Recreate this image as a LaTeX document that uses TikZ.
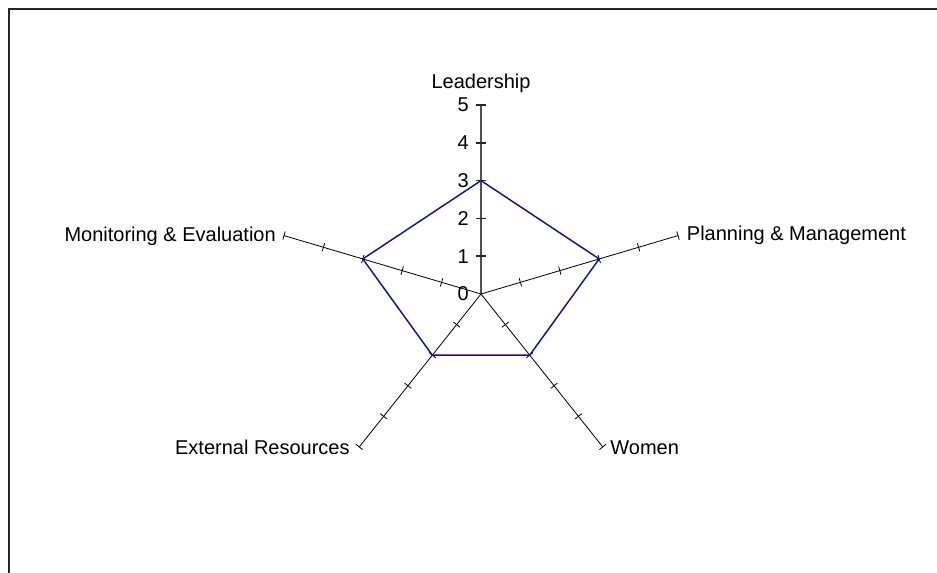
\documentclass[tikz,border=0pt]{standalone}
\usepackage{fontspec}
\setmainfont{Liberation Sans}
\usetikzlibrary{calc}
\definecolor{seriesblue}{RGB}{20,20,140}
\definecolor{axisgray}{RGB}{80,80,80}
\tikzset{
  frameline/.style={line width=1.6pt, draw=black!85},
  spoke/.style={line width=0.6pt, draw=black},
  mainspoke/.style={line width=0.9pt, draw=axisgray},
  tickmark/.style={line width=0.6pt, draw=black},
  maintick/.style={line width=1.1pt, draw=black!85},
  series/.style={line width=1.1pt, draw=seriesblue, line join=miter},
  catlabel/.style={inner sep=0pt, font=\fontsize{15}{18}\selectfont},
  numlabel/.style={inner sep=0pt, anchor=east, font=\fontsize{15}{18}\selectfont},
}
\begin{document}
\begin{tikzpicture}[x=0.75pt,y=-0.75pt]
\useasboundingbox (0,0) rectangle (937,573);
% chart frame (left and top edges)
\draw[frameline] (9,573) -- (9,9) -- (937,9);

% radar chart: one unit along each spoke
\begin{scope}[shift={(360.75pt,-220.5pt)}, x={(31.07pt,0pt)}, y={(0pt,28.35pt)}]
  \coordinate (O) at (0,0);
  \coordinate (L5) at (90:5);
  \coordinate (P5) at (18:5);
  \coordinate (W5) at (-54:5);
  \coordinate (E5) at (234:5);
  \coordinate (M5) at (162:5);

  % spokes
  \draw[mainspoke] (O) -- (L5);
  \draw[spoke] (O) -- (P5);
  \draw[spoke] (O) -- (W5);
  \draw[spoke] (O) -- (E5);
  \draw[spoke] (O) -- (M5);

  % tick marks
  \foreach \k in {1,...,5} {
    \draw[maintick] (90:\k) ++(180:3.9pt) -- ++(0:7.8pt);
    \draw[tickmark] (18:\k) ++(106.54:3.2pt) -- ++(-73.46:6.4pt);
    \draw[tickmark] (-54:\k) ++(38.53:3.2pt) -- ++(218.53:6.4pt);
    \draw[tickmark] (234:\k) ++(141.47:3.2pt) -- ++(-38.53:6.4pt);
    \draw[tickmark] (162:\k) ++(73.46:3.2pt) -- ++(253.46:6.4pt);
  }

  % scale numbers
  \foreach \k in {0,...,5} {
    \node[numlabel, xshift=-9pt] (n\k) at (90:\k) {\k};
  }

  % data series
  \coordinate (dL) at (90:3);
  \coordinate (dP) at (18:3);
  \coordinate (dW) at (-54:2);
  \coordinate (dE) at (234:2);
  \coordinate (dM) at (162:3);
  \draw[series] (dL) -- (dP) -- (dW) -- (dE) -- (dM) -- cycle;

  % category labels
  \node[catlabel, anchor=base, yshift=12pt] (labL) at (L5) {Leadership};
  \node[catlabel, anchor=base west, xshift=6.5pt, yshift=-3.5pt] (labP) at (P5) {Planning \& Management};
  \node[catlabel, anchor=base west, xshift=5.5pt, yshift=-6pt] (labW) at (W5) {Women};
  \node[catlabel, anchor=base east, xshift=-7pt, yshift=-6pt] (labE) at (E5) {External Resources};
  \node[catlabel, anchor=base east, xshift=-6pt, yshift=-4.5pt] (labM) at (M5) {Monitoring \& Evaluation};
\end{scope}
\end{tikzpicture}
\end{document}
